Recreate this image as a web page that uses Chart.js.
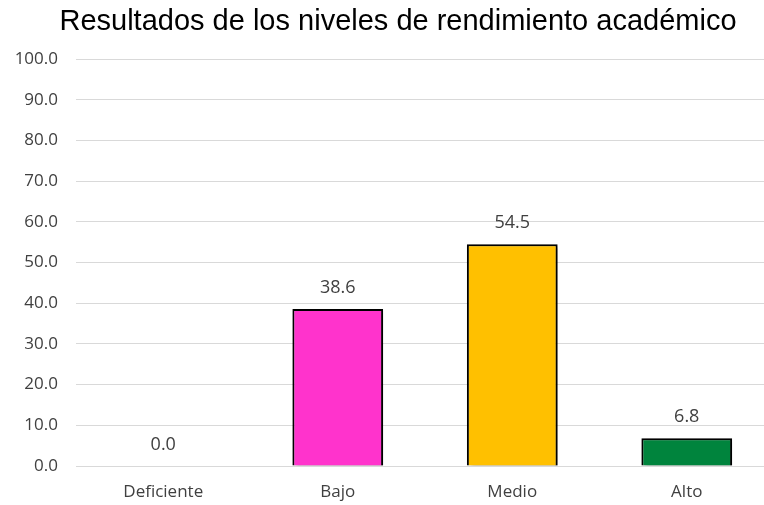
<!DOCTYPE html>
<html>
<head>
<meta charset="utf-8">
<script src="https://cdn.jsdelivr.net/npm/chart.js@4/dist/chart.umd.min.js"></script>
<style>
  html, body { margin: 0; padding: 0; background: #fff; overflow: hidden; }
</style>
</head>
<body>
<canvas id="chart" width="774" height="505"></canvas>
<script>
const categorias = ['Deficiente', 'Bajo', 'Medio', 'Alto'];
const valores = [0.0, 38.6, 54.5, 6.8];
const colores = ['#FF33CC', '#FF33CC', '#FFC000', '#00843D'];
const titulo = 'Resultados de los niveles de rendimiento académico';

// titulo dibujado a mano para poder centrarlo como en el original
const titlePlugin = {
    id: 'chartTitle',
    afterDraw(chart) {
        const ctx = chart.ctx;
        ctx.save();
        ctx.font = '29px "Liberation Sans", Arial, sans-serif';
        ctx.fillStyle = '#000000';
        ctx.textAlign = 'center';
        ctx.textBaseline = 'alphabetic';
        ctx.fillText(titulo, 398, 30);
        ctx.restore();
    }
};

// sombra de las barras, como en Excel
const shadowPlugin = {
    id: 'barShadow',
    beforeDatasetsDraw(chart) {
        const ctx = chart.ctx;
        ctx.save();
        ctx.shadowColor = 'rgba(0, 0, 0, 0.45)';
        ctx.shadowBlur = 4;
        ctx.shadowOffsetX = 3;
        ctx.shadowOffsetY = 2;
    },
    afterDatasetsDraw(chart) {
        chart.ctx.restore();
    }
};

// etiquetas de valor encima de cada barra
const labelPlugin = {
    id: 'valueLabels',
    afterDatasetsDraw(chart) {
        const ctx = chart.ctx;
        const meta = chart.getDatasetMeta(0);
        ctx.save();
        ctx.shadowColor = 'transparent';
        ctx.font = '18px "Open Sans"';
        ctx.fillStyle = '#404040';
        ctx.textAlign = 'center';
        ctx.textBaseline = 'middle';
        meta.data.forEach((bar, i) => {
            ctx.fillText(valores[i].toFixed(1), bar.x, bar.y - 21);
        });
        ctx.restore();
    }
};

const ctx = document.getElementById('chart').getContext('2d');
new Chart(ctx, {
    type: 'bar',
    data: {
        labels: categorias,
        datasets: [{
            data: valores,
            backgroundColor: colores,
            borderColor: '#000000',
            borderWidth: c => (c.raw === 0 ? 0 : 2),
            barPercentage: 0.52,
            categoryPercentage: 1.0
        }]
    },
    options: {
        responsive: false,
        animation: false,
        layout: {
            padding: { left: 0, right: 0, top: 59, bottom: 0 }
        },
        scales: {
            y: {
                min: 0,
                max: 100,
                ticks: {
                    stepSize: 10,
                    padding: 18,
                    color: '#404040',
                    font: { family: 'Open Sans', size: 17 },
                    callback: v => Number(v).toFixed(1)
                },
                grid: { color: '#D9D9D9', drawTicks: false },
                border: { display: false },
                afterFit: s => { s.width = 76; }
            },
            x: {
                grid: { display: false, drawTicks: false },
                border: { display: false },
                ticks: {
                    padding: 16,
                    color: '#404040',
                    font: { family: 'Open Sans', size: 17 }
                },
                afterFit: s => { s.height = 39; }
            }
        },
        plugins: {
            legend: { display: false },
            tooltip: { enabled: false },
            title: { display: false }
        }
    },
    plugins: [titlePlugin, shadowPlugin, labelPlugin]
});
</script>
</body>
</html>
